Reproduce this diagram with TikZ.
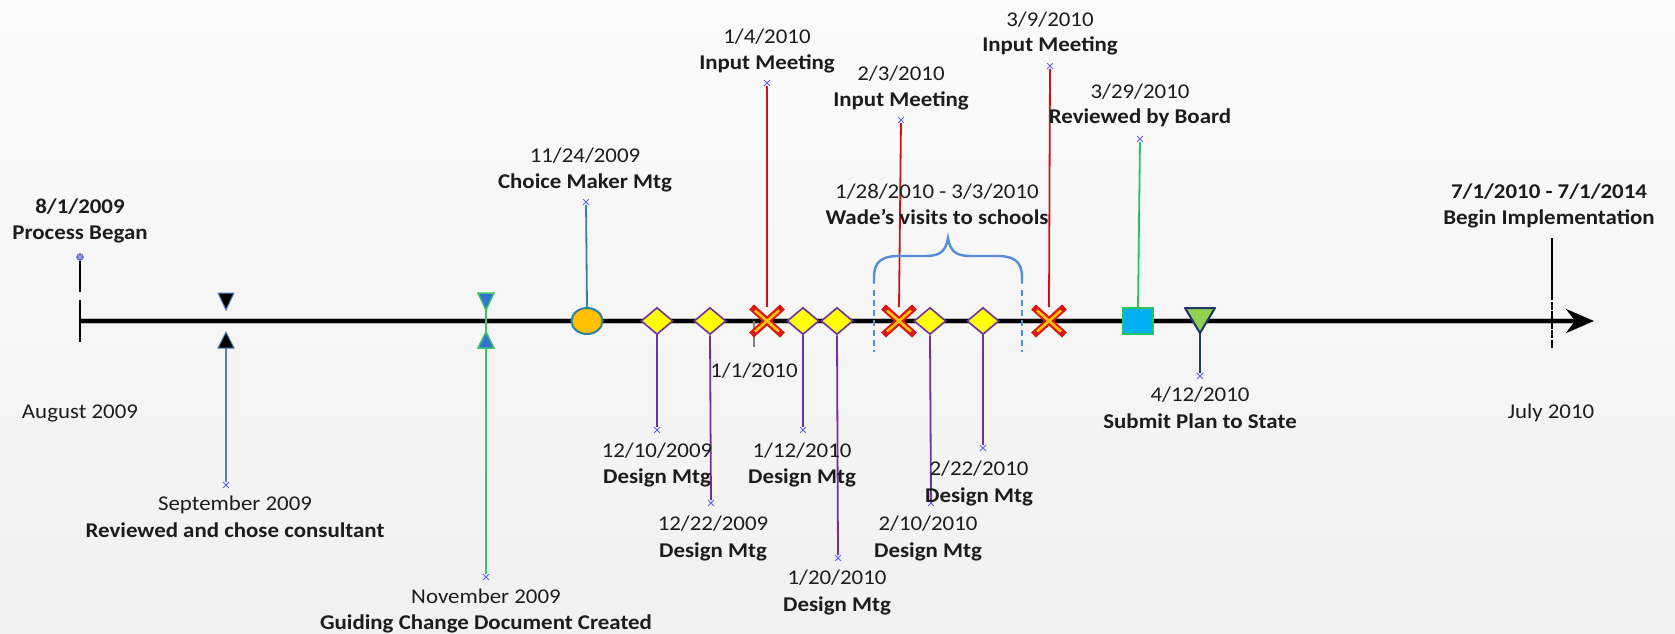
\documentclass[tikz,border=0pt]{standalone}
\usepackage{fontspec}
\setmainfont{Carlito}[FakeStretch=1.09]
\usetikzlibrary{shapes.geometric,shapes.misc,arrows.meta}
\pgfdeclarelayer{bg}
\pgfdeclarelayer{mid}
\pgfsetlayers{bg,mid,main}
\definecolor{bgtop}{RGB}{251,251,251}
\definecolor{bgbot}{RGB}{241,241,241}
\definecolor{txt}{RGB}{28,28,28}
\definecolor{redln}{RGB}{205,20,20}
\definecolor{purp}{RGB}{112,48,160}
\definecolor{cteal}{RGB}{49,132,155}
\definecolor{mkblue}{RGB}{95,95,245}
\definecolor{braceblue}{RGB}{85,142,213}
\definecolor{sepblue}{RGB}{79,129,200}
\definecolor{novgreen}{RGB}{60,195,110}
\definecolor{novfill}{RGB}{50,115,205}
\definecolor{orfill}{RGB}{255,192,0}
\definecolor{dyellow}{RGB}{255,255,0}
\definecolor{sqfill}{RGB}{0,176,240}
\definecolor{sqgreen}{RGB}{40,195,95}
\definecolor{trifill}{RGB}{146,208,80}
\definecolor{cnavy}{RGB}{31,56,100}
\definecolor{xred}{RGB}{215,25,20}
\definecolor{xyel}{RGB}{255,195,0}
\tikzset{
  lbl/.style={font=\fontsize{21}{25}\selectfont, text=txt, anchor=base, inner sep=0pt},
  blbl/.style={font=\fontsize{21}{25}\selectfont\bfseries, text=txt, anchor=base, inner sep=0pt},
  mk/.style={cross out, draw=mkblue, line width=0.9pt, minimum size=5pt, inner sep=0pt},
  dia/.style={diamond, fill=dyellow, draw=purp, line width=1.6pt, minimum width=32pt, minimum height=27pt, inner sep=0pt},
  xa/.style={cross out, draw=xred, line width=7pt, minimum width=24pt, minimum height=21pt, inner sep=0pt},
  xb/.style={cross out, draw=xyel, line width=2.6pt, minimum width=24pt, minimum height=21pt, inner sep=0pt, outer sep=0pt},
  redc/.style={draw=redln, line width=1.8pt},
  purc/.style={draw=purp, line width=1.8pt},
  tealc/.style={draw=cteal, line width=1.8pt},
  greenc/.style={draw=sqgreen, line width=1.8pt},
  navyc/.style={draw=cnavy, line width=1.8pt},
  sepc/.style={draw=sepblue, line width=1.2pt},
  novc/.style={draw=novgreen, line width=1.2pt},
}
\begin{document}
\begin{tikzpicture}[x=1pt,y=-1pt]
\useasboundingbox (0,0) rectangle (1675,633);
\begin{pgfonlayer}{bg}
\shade[top color=bgtop, bottom color=bgbot] (0,0) rectangle (1675,633);
\coordinate (ax0) at (80,321);
\coordinate (ax1) at (1594,321);
\draw[gray!55, line width=6.5pt] (ax0) -- (1572,321);
\draw[black, line width=4pt, -{Stealth[length=28pt,width=24pt,inset=9pt]}] (ax0) -- (ax1);
\end{pgfonlayer}

% ---- 8/1/2009 Process Began
\node[circle, fill=mkblue!70!gray, draw=cnavy!60, line width=0.6pt, minimum size=7pt, inner sep=0pt] (mproc) at (80,257) {};
\node[mk, minimum size=4pt, draw=white!60!mkblue, line width=0.5pt] at (mproc) {};
\coordinate (pbot) at (80,292);
\coordinate (tk0a) at (80,300);
\coordinate (tk0b) at (80,342);
\draw[black, line width=1.5pt] (mproc) -- (pbot);
\draw[black, line width=1.5pt] (tk0a) -- (tk0b);
\node[blbl] (l0a) at (80,213.5) {8/1/2009};
\node[blbl] (l0b) at (80,239.5) {Process Began};
\node[lbl] (aug) at (80,418) {August 2009};

% ---- September 2009
\path[draw=sepblue, fill=black, line width=1pt] (218,293) -- (234,293) -- (226,310) -- cycle;
\path[draw=sepblue, fill=black, line width=1pt] (218,348) -- (234,348) -- (226,332) -- cycle;
\coordinate (sepb) at (226,348);
\node[mk] (msep) at (226,485) {};
\node[lbl] (l1a) at (235,510) {September 2009};
\node[blbl] (l1b) at (235,537) {Reviewed and chose consultant};

% ---- November 2009
\coordinate (novt) at (486,300);
\node[mk] (mnov) at (486,577) {};
\begin{pgfonlayer}{mid}
\draw[novc] (novt) -- (mnov);
\end{pgfonlayer}
\path[draw=novgreen, fill=novfill, line width=1.5pt] (478,293) -- (494,293) -- (486,310) -- cycle;
\path[draw=novgreen, fill=novfill, line width=1.5pt] (478,348) -- (494,348) -- (486,332) -- cycle;
\node[lbl] (l2a) at (486,603) {November 2009};
\node[blbl] (l2b) at (486,629) {Guiding Change Document Created};

% ---- 11/24/2009 Choice Maker
\node[ellipse, fill=orfill, draw=cteal, line width=2pt, minimum width=31pt, minimum height=26pt, inner sep=0pt] (cm) at (587,321) {};
\node[mk] (mcm) at (586,202) {};
\node[lbl] (l3a) at (585,162.5) {11/24/2009};
\node[blbl] (l3b) at (585,188.5) {Choice Maker Mtg};

% ---- diamonds (Design Mtg)
\node[dia] (d1) at (657,321) {};
\node[dia] (d2) at (710,321) {};
\node[dia] (d3) at (803,321) {};
\node[dia] (d4) at (837,321) {};
\node[dia] (d5) at (930,321) {};
\node[dia] (d6) at (983,321) {};
\node[mk] (md1) at (657,430) {};
\node[mk] (md2) at (711,503) {};
\node[mk] (md3) at (803,430) {};
\node[mk] (md4) at (838,558) {};
\node[mk] (md5) at (931,503) {};
\node[mk] (md6) at (983,448) {};
\node[lbl] (l4a) at (657,457) {12/10/2009};
\node[blbl] (l4b) at (657,483) {Design Mtg};
\node[lbl] (l5a) at (713,530) {12/22/2009};
\node[blbl] (l5b) at (713,557) {Design Mtg};
\node[lbl] (l6a) at (802,457) {1/12/2010};
\node[blbl] (l6b) at (802,483) {Design Mtg};
\node[lbl] (l7a) at (837,584) {1/20/2010};
\node[blbl] (l7b) at (837,611) {Design Mtg};
\node[lbl] (l8a) at (928,530) {2/10/2010};
\node[blbl] (l8b) at (928,557) {Design Mtg};
\node[lbl] (l9a) at (979,475) {2/22/2010};
\node[blbl] (l9b) at (979,502) {Design Mtg};

% ---- 1/1/2010 tick
\coordinate (t1a) at (754,321);
\coordinate (t1b) at (754,347);
\node[lbl] (l10) at (754,377) {1/1/2010};

% ---- X marks (Input Meeting)
\node[xa] (x1) at (767,321) {};
\node[xb] at (x1) {};
\node[xa] (x2) at (899,321) {};
\node[xb] at (x2) {};
\node[xa] (x3) at (1049,321) {};
\node[xb] at (x3) {};
\node[mk] (mx1) at (767,83) {};
\node[mk] (mx2) at (901,120) {};
\node[mk] (mx3) at (1050,66) {};
\node[lbl] (l11a) at (767,43.5) {1/4/2010};
\node[blbl] (l11b) at (767,69) {Input Meeting};
\node[lbl] (l12a) at (901,80.5) {2/3/2010};
\node[blbl] (l12b) at (901,106) {Input Meeting};
\node[lbl] (l13a) at (1050,26) {3/9/2010};
\node[blbl] (l13b) at (1050,51) {Input Meeting};

% ---- brace (Wade's visits)
\coordinate (bl0) at (874,283);
\coordinate (br0) at (1022,283);
\coordinate (bl1) at (874,290);
\coordinate (bl2) at (874,352);
\coordinate (br1) at (1022,290);
\coordinate (br2) at (1022,352);
\draw[braceblue, line width=2.4pt, line cap=round]
  (bl0) -- (874,277) .. controls (874,262) and (882,256) .. (898,256) -- (926,256)
  .. controls (940,256) and (946,251) .. (948,238)
  .. controls (950,251) and (956,256) .. (970,256) -- (998,256)
  .. controls (1014,256) and (1022,262) .. (1022,277) -- (br0);
\draw[braceblue, line width=1.3pt, dash pattern=on 6pt off 4pt] (bl1) -- (bl2);
\draw[braceblue, line width=1.3pt, dash pattern=on 6pt off 4pt] (br1) -- (br2);
\node[lbl] (l14a) at (937,198.5) {1/28/2010 - 3/3/2010};
\node[blbl] (l14b) at (937,224.5) {Wade's visits to schools};

% ---- 3/29/2010 square
\node[rectangle, fill=sqfill, draw=sqgreen, line width=2pt, minimum width=30pt, minimum height=26pt, inner sep=0pt] (sq) at (1138,321) {};
\node[mk] (msq) at (1140,139) {};
\node[lbl] (l15a) at (1140,98) {3/29/2010};
\node[blbl] (l15b) at (1140,123.5) {Reviewed by Board};

% ---- 4/12/2010 triangle
\path[draw=cnavy, fill=trifill, line width=2pt, line join=round] (1185,308) -- (1215,308) -- (1200,333) -- cycle;
\coordinate (tri) at (1200,333);
\node[mk] (mtri) at (1200,376) {};
\node[lbl] (l16a) at (1200,401.5) {4/12/2010};
\node[blbl] (l16b) at (1200,428.5) {Submit Plan to State};

% ---- 7/1/2010 tick
\coordinate (t7a) at (1552,238);
\coordinate (t7b) at (1552,292);
\coordinate (t7c) at (1552,348);
\draw[black, line width=2.2pt] (t7a) -- (t7b);
\draw[black, line width=2.2pt, dash pattern=on 8pt off 1.5pt] (t7b) -- (t7c);
\node[blbl] (l17a) at (1549,198.5) {7/1/2010 - 7/1/2014};
\node[blbl] (l17b) at (1549,224.5) {Begin Implementation};
\node[lbl] (jul) at (1551,418) {July 2010};

% ---- connectors
\begin{pgfonlayer}{mid}
\draw[sepc] (sepb) -- (msep);
\draw[tealc] (cm.north) -- (mcm);
\draw[purc] (d1.south) -- (md1);
\draw[purc] (d2.south) -- (md2);
\draw[purc] (d3.south) -- (md3);
\draw[purc] (d4.south) -- (md4);
\draw[purc] (d5.south) -- (md5);
\draw[purc] (d6.south) -- (md6);
\draw[gray, line width=1.5pt] (t1a) -- (t1b);
\draw[redc] (x1.north) -- (mx1);
\draw[redc] (x2.north) -- (mx2);
\draw[redc] (x3.north) -- (mx3);
\draw[greenc] (sq.north) -- (msq);
\draw[navyc] (tri) -- (mtri);
\end{pgfonlayer}
\end{tikzpicture}
\end{document}
